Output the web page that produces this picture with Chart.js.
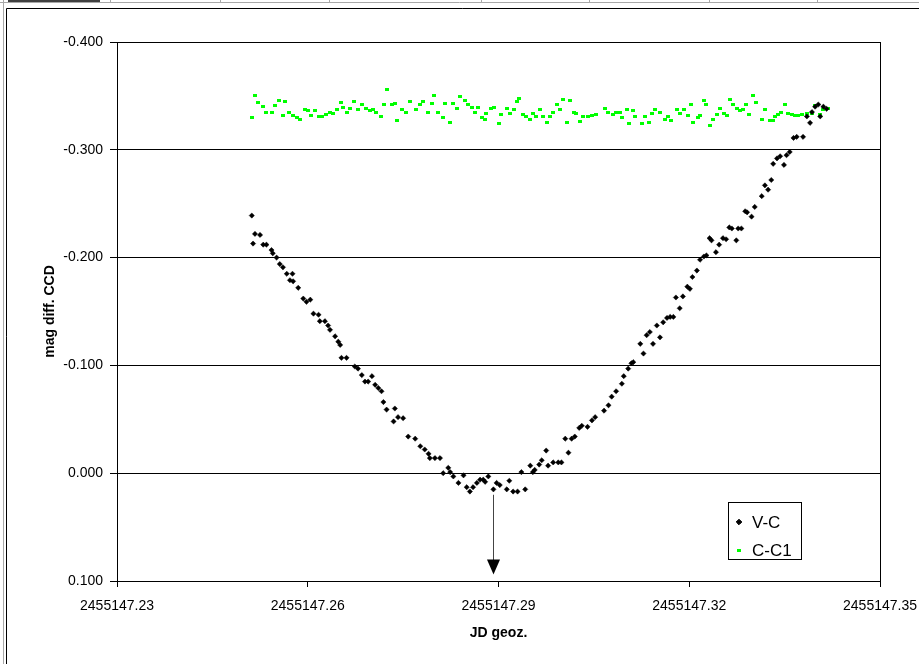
<!DOCTYPE html>
<html>
<head>
<meta charset="utf-8">
<script src="https://cdn.jsdelivr.net/npm/chart.js@4.4.1/dist/chart.umd.min.js"></script>
<style>
  html, body { margin: 0; padding: 0; background: #fff; }
  canvas { display: block; }
</style>
</head>
<body>
<canvas id="chart" width="919" height="664"></canvas>
<script>
// times are JD - 2455147
const JD_BASE = 2455147;

const vcTime = [
  0.2512, 0.2514, 0.2517, 0.2525, 0.2530, 0.2535, 0.2543, 0.2545, 0.2551, 0.2556,
  0.2561, 0.2567, 0.2572, 0.2576, 0.2577, 0.2585, 0.2593, 0.2598, 0.2604, 0.2609,
  0.2617, 0.2619, 0.2627, 0.2632, 0.2635, 0.2643, 0.2648, 0.2651, 0.2653, 0.2661,
  0.2674, 0.2679, 0.2685, 0.2690, 0.2695, 0.2701, 0.2706, 0.2711, 0.2716, 0.2719,
  0.2724, 0.2735, 0.2737, 0.2742, 0.2750, 0.2758, 0.2769, 0.2777, 0.2784, 0.2790,
  0.2792, 0.2800, 0.2808, 0.2813, 0.2821, 0.2824, 0.2829, 0.2837, 0.2845, 0.2850,
  0.2855, 0.2860, 0.2866, 0.2871, 0.2876, 0.2879, 0.2884, 0.2892, 0.2897, 0.2902,
  0.2913, 0.2917, 0.2923, 0.2930, 0.2936, 0.2942, 0.2950, 0.2954, 0.2957, 0.2964,
  0.2968, 0.2975, 0.2978, 0.2986, 0.2994, 0.2999, 0.3005, 0.3010, 0.3015, 0.3020,
  0.3027, 0.3031, 0.3040, 0.3047, 0.3052, 0.3066, 0.3073, 0.3078, 0.3085, 0.3094,
  0.3097, 0.3104, 0.3109, 0.3112, 0.3123, 0.3128, 0.3133, 0.3138, 0.3143, 0.3149,
  0.3154, 0.3159, 0.3165, 0.3170, 0.3175, 0.3179, 0.3185, 0.3190, 0.3197, 0.3201,
  0.3205, 0.3212, 0.3217, 0.3223, 0.3227, 0.3232, 0.3235, 0.3242, 0.3247, 0.3253,
  0.3258, 0.3263, 0.3267, 0.3274, 0.3277, 0.3282, 0.3288, 0.3291, 0.3298, 0.3303,
  0.3314, 0.3319, 0.3324, 0.3329, 0.3332, 0.3338, 0.3343, 0.3349, 0.3353, 0.3358,
  0.3364, 0.3369, 0.3379, 0.3385, 0.3390, 0.3393, 0.3398, 0.3403, 0.3406, 0.3411,
  0.3416
];
const vcMag = [
  -0.239, -0.213, -0.222, -0.221, -0.212, -0.212, -0.207, -0.204, -0.200, -0.194,
  -0.191, -0.185, -0.179, -0.185, -0.178, -0.172, -0.162, -0.159, -0.161, -0.148,
  -0.147, -0.141, -0.141, -0.137, -0.133, -0.127, -0.122, -0.119, -0.107, -0.107,
  -0.099, -0.097, -0.091, -0.085, -0.085, -0.090, -0.082, -0.079, -0.076, -0.066,
  -0.059, -0.048, -0.060, -0.052, -0.051, -0.034, -0.032, -0.025, -0.022, -0.018,
  -0.014, -0.014, -0.014, 0.000, -0.005, -0.001, 0.003, 0.009, 0.002, 0.013,
  0.017, 0.013, 0.009, 0.006, 0.006, 0.008, 0.003, 0.015, 0.009, 0.011,
  0.015, 0.007, 0.017, 0.017, -0.001, 0.015, -0.007, -0.001, -0.003, -0.008,
  -0.012, -0.021, -0.007, -0.010, -0.010, -0.010, -0.032, -0.019, -0.032, -0.034,
  -0.042, -0.044, -0.043, -0.049, -0.052, -0.058, -0.063, -0.071, -0.076, -0.083,
  -0.090, -0.097, -0.102, -0.103, -0.120, -0.111, -0.128, -0.131, -0.120, -0.137,
  -0.126, -0.140, -0.144, -0.145, -0.145, -0.163, -0.153, -0.164, -0.173, -0.171,
  -0.182, -0.188, -0.198, -0.201, -0.202, -0.218, -0.216, -0.205, -0.212, -0.218,
  -0.217, -0.228, -0.227, -0.216, -0.227, -0.227, -0.243, -0.242, -0.238, -0.247,
  -0.257, -0.267, -0.263, -0.272, -0.287, -0.292, -0.294, -0.286, -0.295, -0.298,
  -0.311, -0.312, -0.312, -0.331, -0.325, -0.335, -0.340, -0.342, -0.331, -0.340,
  -0.338
];

const ccTime = [
  0.2513, 0.2517, 0.2522, 0.2530, 0.2535, 0.2543, 0.2548, 0.2554, 0.2561, 0.2565,
  0.2571, 0.2577, 0.2583, 0.2588, 0.2596, 0.2601, 0.2605, 0.2611, 0.2618, 0.2622,
  0.2629, 0.2635, 0.2640, 0.2646, 0.2652, 0.2656, 0.2662, 0.2666, 0.2673, 0.2679,
  0.2686, 0.2692, 0.2698, 0.2703, 0.2708, 0.2715, 0.2720, 0.2724, 0.2732, 0.2737,
  0.2741, 0.2748, 0.2754, 0.2761, 0.2771, 0.2777, 0.2782, 0.2789, 0.2795, 0.2799,
  0.2805, 0.2812, 0.2816, 0.2823, 0.2829, 0.2834, 0.2839, 0.2847, 0.2852, 0.2858,
  0.2863, 0.2868, 0.2874, 0.2879, 0.2881, 0.2888, 0.2893, 0.2900, 0.2904, 0.2913,
  0.2918, 0.2924, 0.2929, 0.2933, 0.2939, 0.2944, 0.2950, 0.2955, 0.2959, 0.2965,
  0.2970, 0.2976, 0.2981, 0.2986, 0.2992, 0.2997, 0.3002, 0.3007, 0.3012, 0.3018,
  0.3022, 0.3028, 0.3033, 0.3041, 0.3047, 0.3053, 0.3067, 0.3073, 0.3080, 0.3085,
  0.3091, 0.3095, 0.3102, 0.3106, 0.3111, 0.3115, 0.3125, 0.3130, 0.3136, 0.3141,
  0.3146, 0.3154, 0.3162, 0.3167, 0.3172, 0.3180, 0.3185, 0.3191, 0.3198, 0.3202,
  0.3206, 0.3213, 0.3217, 0.3223, 0.3227, 0.3233, 0.3238, 0.3243, 0.3248, 0.3254,
  0.3259, 0.3264, 0.3269, 0.3275, 0.3280, 0.3285, 0.3289, 0.3294, 0.3301, 0.3305,
  0.3314, 0.3319, 0.3327, 0.3332, 0.3335, 0.3340, 0.3345, 0.3351, 0.3356, 0.3361,
  0.3366, 0.3371, 0.3378, 0.3385, 0.3393, 0.3398, 0.3406, 0.3411, 0.3419
];
const ccMag = [
  -0.330, -0.350, -0.344, -0.340, -0.335, -0.335, -0.341, -0.346, -0.332, -0.345,
  -0.335, -0.332, -0.330, -0.328, -0.337, -0.336, -0.332, -0.336, -0.331, -0.331,
  -0.333, -0.335, -0.334, -0.337, -0.344, -0.339, -0.335, -0.338, -0.345, -0.337,
  -0.342, -0.338, -0.336, -0.337, -0.335, -0.331, -0.342, -0.356, -0.342, -0.343,
  -0.327, -0.337, -0.335, -0.345, -0.337, -0.342, -0.345, -0.335, -0.343, -0.350,
  -0.335, -0.330, -0.343, -0.325, -0.343, -0.338, -0.349, -0.346, -0.342, -0.339,
  -0.335, -0.339, -0.330, -0.328, -0.334, -0.338, -0.339, -0.324, -0.333, -0.338,
  -0.334, -0.337, -0.345, -0.348, -0.333, -0.331, -0.328, -0.334, -0.331, -0.337,
  -0.331, -0.325, -0.331, -0.335, -0.342, -0.337, -0.347, -0.325, -0.346, -0.335,
  -0.334, -0.326, -0.331, -0.331, -0.332, -0.333, -0.338, -0.335, -0.333, -0.335,
  -0.335, -0.330, -0.337, -0.324, -0.336, -0.331, -0.324, -0.331, -0.325, -0.334,
  -0.337, -0.335, -0.328, -0.331, -0.327, -0.337, -0.334, -0.337, -0.332, -0.342,
  -0.325, -0.330, -0.332, -0.346, -0.342, -0.323, -0.328, -0.333, -0.338, -0.334,
  -0.332, -0.347, -0.342, -0.338, -0.336, -0.337, -0.342, -0.333, -0.350, -0.344,
  -0.328, -0.337, -0.327, -0.327, -0.331, -0.333, -0.335, -0.342, -0.334, -0.333,
  -0.332, -0.332, -0.333, -0.334, -0.334, -0.341, -0.333, -0.337, -0.338
];

const seriesNames = ['V-C', 'C-C1'];
const xTicks = [2455147.23, 2455147.26, 2455147.29, 2455147.32, 2455147.35];
const yTicks = [-0.4, -0.3, -0.2, -0.1, 0, 0.1];

// arrow marking the minimum
const minTime = 0.2892;
const arrowFrom = 0.020;
const arrowTo = 0.094;

const FONT = "'Liberation Sans', Arial, sans-serif";

function toPoints(times, mags) {
  return times.map((t, i) => ({ x: JD_BASE + t, y: mags[i] }));
}

// little green dash like excel draws
const dash = document.createElement('canvas');
dash.width = 4;
dash.height = 3;
const dctx = dash.getContext('2d');
dctx.fillStyle = '#00ff00';
dctx.fillRect(0, 0, 4, 3);

// spreadsheet bits around the chart object
const sheetFrame = {
  id: 'sheetFrame',
  beforeDraw(chart) {
    const ctx = chart.ctx;
    const w = chart.width, h = chart.height;
    ctx.save();
    ctx.fillStyle = '#fff';
    ctx.fillRect(0, 0, w, h);
    ctx.fillStyle = '#404040';
    ctx.fillRect(8, 0, 92, 2);
    ctx.strokeStyle = '#a8a8a8';
    ctx.lineWidth = 1;
    ctx.beginPath();
    ctx.moveTo(0, 2.5); ctx.lineTo(w, 2.5);
    ctx.moveTo(3.5, 0); ctx.lineTo(3.5, h);
    [110, 220, 329, 481, 589, 709, 817].forEach(x => {
      ctx.moveTo(x + 0.5, 0); ctx.lineTo(x + 0.5, 3);
    });
    ctx.stroke();
    ctx.strokeStyle = '#000';
    ctx.beginPath();
    ctx.moveTo(6.5, h); ctx.lineTo(6.5, 8.5); ctx.lineTo(w, 8.5);
    ctx.stroke();
    ctx.restore();
  },
  beforeDatasetsDraw(chart) {
    const { ctx, chartArea: a } = chart;
    ctx.save();
    ctx.strokeStyle = '#000';
    ctx.lineWidth = 1;
    ctx.strokeRect(Math.round(a.left) + 0.5, Math.round(a.top) + 0.5,
      Math.round(a.right - a.left), Math.round(a.bottom - a.top));
    ctx.restore();
  }
};

const minArrow = {
  id: 'minArrow',
  afterDatasetsDraw(chart) {
    const { ctx, scales } = chart;
    const x = Math.round(scales.x.getPixelForValue(JD_BASE + minTime)) + 0.5;
    const y0 = scales.y.getPixelForValue(arrowFrom);
    const y1 = scales.y.getPixelForValue(arrowTo);
    ctx.save();
    ctx.strokeStyle = '#444';
    ctx.lineWidth = 1;
    ctx.beginPath();
    ctx.moveTo(x, y0); ctx.lineTo(x, y1 - 14);
    ctx.stroke();
    ctx.fillStyle = '#000';
    ctx.beginPath();
    ctx.moveTo(x - 6.5, y1 - 15);
    ctx.lineTo(x + 6.5, y1 - 15);
    ctx.lineTo(x, y1);
    ctx.closePath();
    ctx.fill();
    ctx.restore();
  }
};

const boxLegend = {
  id: 'boxLegend',
  afterDraw(chart) {
    const ctx = chart.ctx;
    const bx = 728, by = 502, bw = 73, bh = 57;
    ctx.save();
    ctx.fillStyle = '#fff';
    ctx.fillRect(bx, by, bw, bh);
    ctx.strokeStyle = '#000';
    ctx.lineWidth = 1;
    ctx.strokeRect(bx + 0.5, by + 0.5, bw, bh);
    const rows = [by + 20, by + 48];
    chart.data.datasets.forEach((ds, i) => {
      const y = rows[i];
      Chart.helpers.drawPoint(ctx, {
        pointStyle: ds.pointStyle, radius: ds.pointRadius || 2,
        borderWidth: ds.borderWidth || 0, rotation: 0
      }, bx + 11, y);
      ctx.fillStyle = ds.backgroundColor;
      ctx.strokeStyle = ds.borderColor;
      if (ds.pointStyle === 'rectRot') {
        ctx.fill();
        ctx.stroke();
      }
      ctx.fillStyle = '#000';
      ctx.font = '17px ' + FONT;
      ctx.textBaseline = 'middle';
      ctx.textAlign = 'left';
      ctx.fillText(ds.label, bx + 24, y + 1);
    });
    ctx.restore();
  }
};

new Chart(document.getElementById('chart'), {
  type: 'scatter',
  data: {
    datasets: [
      {
        label: seriesNames[0],
        data: toPoints(vcTime, vcMag),
        pointStyle: 'rectRot',
        pointRadius: 2.6,
        backgroundColor: '#000',
        borderColor: '#000',
        borderWidth: 0.5
      },
      {
        label: seriesNames[1],
        data: toPoints(ccTime, ccMag),
        pointStyle: dash,
        pointRadius: 2,
        backgroundColor: '#00ff00',
        borderColor: '#00ff00',
        borderWidth: 0
      }
    ]
  },
  options: {
    responsive: false,
    animation: false,
    layout: { padding: { left: 0, top: 42, right: 39, bottom: 0 } },
    plugins: {
      legend: { display: false },
      tooltip: { enabled: false }
    },
    scales: {
      x: {
        type: 'linear',
        min: xTicks[0],
        max: xTicks[xTicks.length - 1],
        afterBuildTicks: s => { s.ticks = xTicks.map(v => ({ value: v })); },
        afterFit: s => {
          s.height = 83;
          s.paddingLeft = 0;
          s.paddingRight = 0;
        },
        grid: { drawOnChartArea: false, drawTicks: true, tickLength: 6, color: '#000' },
        border: { color: '#000', width: 1 },
        ticks: {
          color: '#000',
          font: { family: FONT, size: 14 },
          padding: 11,
          maxRotation: 0,
          autoSkip: false,
          callback: v => v.toFixed(2)
        },
        title: {
          display: true,
          text: 'JD geoz.',
          color: '#000',
          font: { family: FONT, size: 14, weight: 'bold' },
          padding: { top: 0, bottom: 22 }
        }
      },
      y: {
        reverse: true,
        min: yTicks[0],
        max: yTicks[yTicks.length - 1],
        afterBuildTicks: s => { s.ticks = yTicks.map(v => ({ value: v })); },
        afterFit: s => { s.width = 117; },
        grid: { color: '#000', lineWidth: 1, tickLength: 7 },
        border: { color: '#000', width: 1 },
        ticks: {
          color: '#000',
          font: { family: FONT, size: 14 },
          padding: 7,
          autoSkip: false,
          callback: v => (Math.abs(v) < 1e-9 ? 0 : v).toFixed(3)
        },
        title: {
          display: true,
          text: 'mag diff. CCD',
          color: '#000',
          font: { family: FONT, size: 14, weight: 'bold' },
          padding: { top: 42, bottom: 0 }
        }
      }
    }
  },
  plugins: [sheetFrame, minArrow, boxLegend]
});
</script>
</body>
</html>
